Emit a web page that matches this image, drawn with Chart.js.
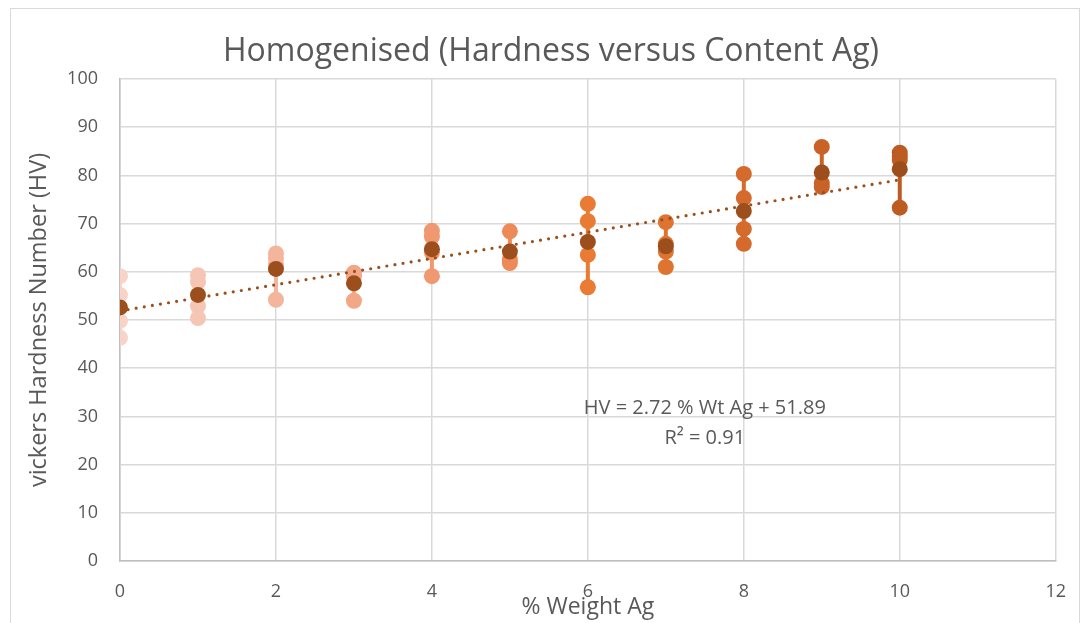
<!DOCTYPE html>
<html>
<head>
<meta charset="utf-8">
<title>Homogenised (Hardness versus Content Ag)</title>
<script src="https://cdn.jsdelivr.net/npm/chart.js@4/dist/chart.umd.min.js"></script>
<style>
  html, body { margin: 0; padding: 0; background: #fff; }
  #wrap { width: 1086px; height: 623px; position: relative; }
</style>
</head>
<body>
<div id="wrap"><canvas id="myChart"></canvas></div>
<script>
// % weight Ag for each group of readings
const weightAg = [0, 1, 2, 3, 4, 5, 6, 7, 8, 9, 10];

// individual hardness readings (HV) at each weight
const readings = [
  [59.1, 55.2, 49.8, 46.3],
  [59.3, 57.9, 52.9, 50.4],
  [63.8, 62.8, 61.5, 54.2],
  [59.8, 59.0, 54.0],
  [68.5, 67.3, 64.0, 59.1],
  [68.4, 62.5, 61.8],
  [74.1, 70.5, 63.5, 56.8],
  [70.3, 65.8, 64.2, 61.0],
  [80.3, 75.3, 68.9, 65.8],
  [85.9, 78.4, 77.6],
  [84.7, 83.9, 83.2, 73.3]
];

// mean hardness at each weight
const meanHV = [52.6, 55.2, 60.6, 57.6, 64.7, 64.2, 66.2, 65.3, 72.6, 80.6, 81.3];

// linear trend shown on the chart
const trendSlope = 2.72;
const trendIntercept = 51.89;
const trendX = [0, 10];

const chartTitle = 'Homogenised (Hardness versus Content Ag)';

const groupColors = [
  '#F8D4C8', '#F6C6B4', '#F4B59D', '#F2A786', '#F0986F',
  '#EE8A58', '#E97B35', '#DE7430', '#D46A2B', '#C96227', '#BC5B22'
];
const meanColor = '#9C4E1C';
const textColor = '#595959';
const fontName = '"Open Sans", "DejaVu Sans", sans-serif';

const datasets = [];

datasets.push({
  label: 'Mean',
  data: weightAg.map((x, i) => ({ x: x, y: meanHV[i] })),
  showLine: false,
  pointRadius: 8,
  pointBackgroundColor: meanColor,
  pointBorderWidth: 0,
  order: 0
});

datasets.push({
  label: 'Trend',
  data: trendX.map(x => ({ x: x, y: trendSlope * x + trendIntercept })),
  showLine: true,
  borderColor: meanColor,
  borderWidth: 3.2,
  borderDash: [0, 8.2],
  borderCapStyle: 'round',
  pointRadius: 0,
  order: 1
});

readings.forEach((vals, i) => {
  datasets.push({
    label: weightAg[i] + ' % Ag',
    data: vals.map(v => ({ x: weightAg[i], y: v })),
    showLine: true,
    borderColor: groupColors[i],
    borderWidth: 4,
    pointRadius: 8,
    pointBackgroundColor: groupColors[i],
    pointBorderWidth: 0,
    order: 2
  });
});

// outer chart frame + title (title sits a bit right of the canvas centre, as in the original)
const frame = {
  id: 'frame',
  beforeDraw(chart) {
    const ctx = chart.ctx;
    ctx.save();
    ctx.strokeStyle = '#D9D9D9';
    ctx.lineWidth = 1;
    ctx.strokeRect(10.5, 8.5, 1069, 640);
    ctx.fillStyle = textColor;
    ctx.font = '32px ' + fontName;
    ctx.textAlign = 'center';
    ctx.textBaseline = 'middle';
    ctx.fillText(chartTitle, 551, 52);
    ctx.restore();
  }
};

const equationLabel = {
  id: 'equationLabel',
  afterDatasetsDraw(chart) {
    const ctx = chart.ctx;
    const xs = chart.scales.x, ys = chart.scales.y;
    ctx.save();
    ctx.fillStyle = textColor;
    ctx.font = '20px ' + fontName;
    ctx.textAlign = 'center';
    ctx.textBaseline = 'middle';
    const mid = xs.getPixelForValue(7.5);
    ctx.fillText('HV = 2.72 % Wt Ag + 51.89', mid, ys.getPixelForValue(31.6));
    ctx.fillText('R\u00B2 = 0.91', mid, ys.getPixelForValue(25.5));
    ctx.restore();
  }
};

new Chart(document.getElementById('myChart'), {
  type: 'scatter',
  data: { datasets: datasets },
  options: {
    responsive: true,
    maintainAspectRatio: false,
    animation: false,
    layout: { padding: { left: 10, right: 29, top: 79, bottom: 0 } },
    plugins: {
      legend: { display: false },
      tooltip: { enabled: false },
      title: { display: false }
    },
    scales: {
      x: {
        type: 'linear',
        min: 0,
        max: 12,
        ticks: { stepSize: 2, color: textColor, font: { family: fontName, size: 18 }, padding: 20 },
        grid: { color: '#D9D9D9', lineWidth: 1.5, drawTicks: false },
        border: { color: '#BFBFBF', width: 1.5 },
        title: {
          display: true,
          text: '% Weight Ag',
          color: textColor,
          font: { family: fontName, size: 23 },
          padding: { top: 0, bottom: 2 }
        },
        afterFit(scale) { scale.height = 62; }
      },
      y: {
        min: 0,
        max: 100,
        ticks: { stepSize: 10, color: textColor, font: { family: fontName, size: 18 }, padding: 22 },
        grid: { color: '#D9D9D9', lineWidth: 1.5, drawTicks: false },
        border: { color: '#BFBFBF', width: 1.5 },
        title: {
          display: true,
          text: 'vickers Hardness Number (HV)',
          color: textColor,
          font: { family: fontName, size: 23.5 },
          padding: { top: 15, bottom: 0 }
        },
        afterFit(scale) { scale.width = 110; }
      }
    }
  },
  plugins: [frame, equationLabel]
});
</script>
</body>
</html>
